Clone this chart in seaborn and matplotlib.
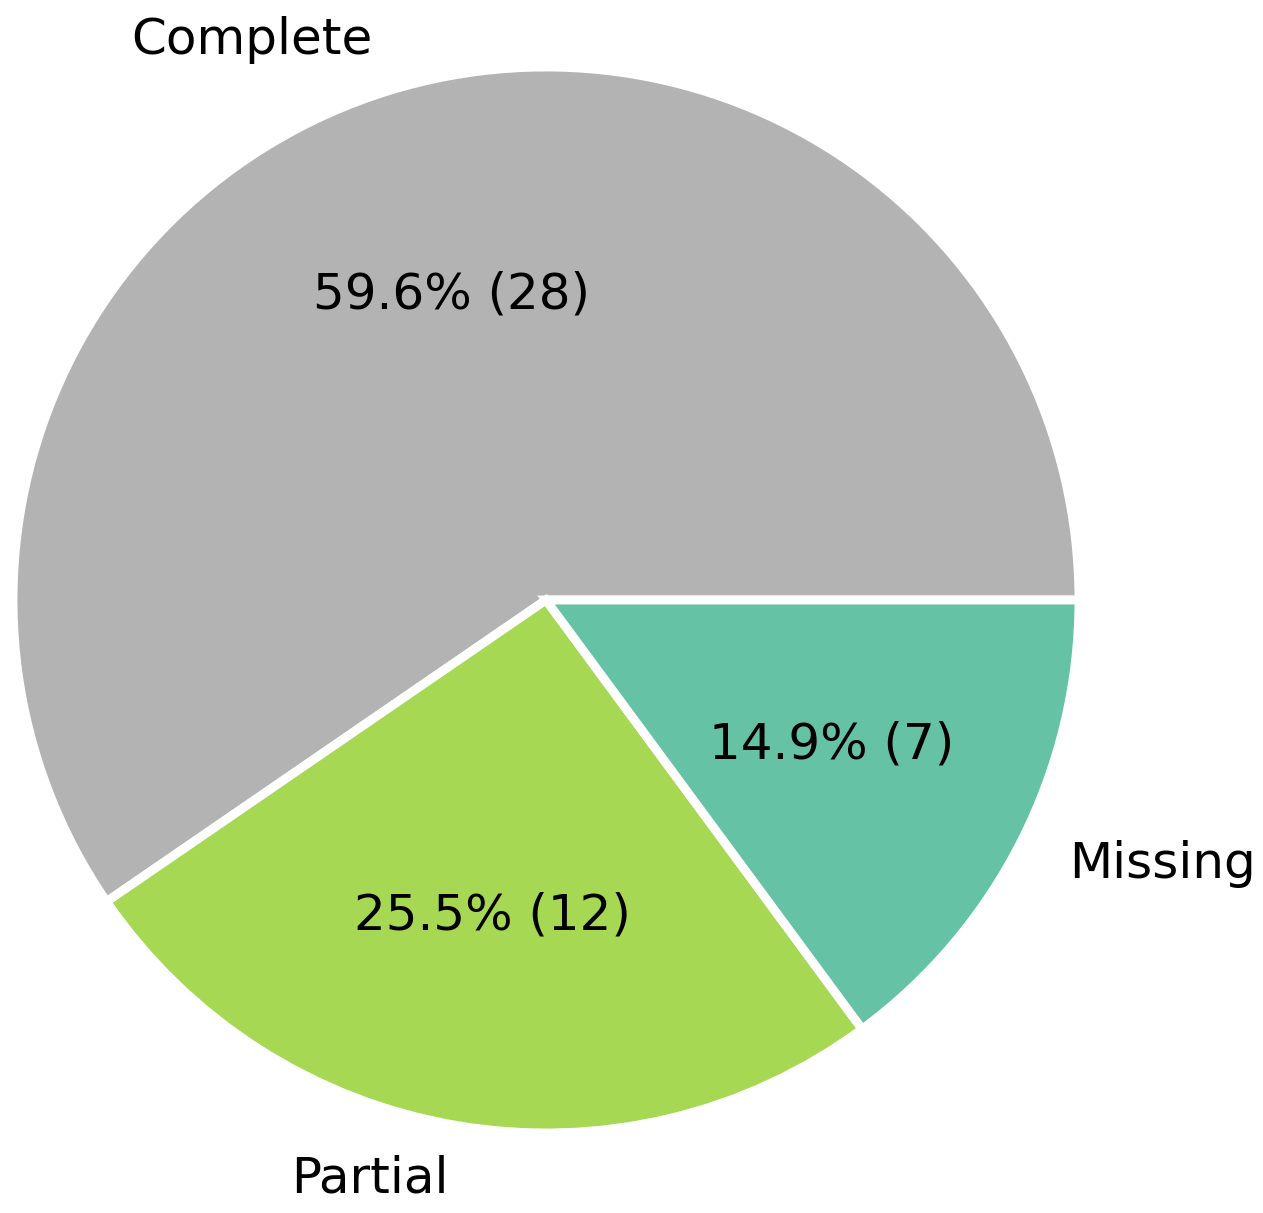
import matplotlib
matplotlib.use("Agg")
import matplotlib.pyplot as plt
import seaborn as sns

categories = ["Complete", "Partial", "Missing"]
counts = [28, 12, 7]

sns.set_theme(style="white")
plt.rcParams['font.family'] = ['DejaVu Sans']
palette = sns.color_palette("Set2", 8)
colors = [palette[7], palette[4], palette[0]]

total = sum(counts)

def fmt(p):
    n = int(round(p * total / 100.0))
    return f"{p:.1f}% ({n})"

W, H, DPI = 1263, 1213, 200
fig = plt.figure(figsize=(W / DPI, H / DPI), dpi=DPI)
R = 533.0
cx, cy = 546.0, 600.0
side = 2.5 * R
ax = fig.add_axes([(cx - side / 2) / W, (H - cy - side / 2) / H, side / W, side / H])
ax.pie(counts, labels=categories, colors=colors, autopct=fmt, startangle=0,
       counterclock=True, wedgeprops=dict(edgecolor="white", linewidth=3.2),
       textprops=dict(fontsize=18, color="black"))
ax.set_xlim(-1.25, 1.25)
ax.set_ylim(-1.25, 1.25)
ax.set_aspect("equal")
ax.axis("off")
fig.savefig("out.png", dpi=DPI)
